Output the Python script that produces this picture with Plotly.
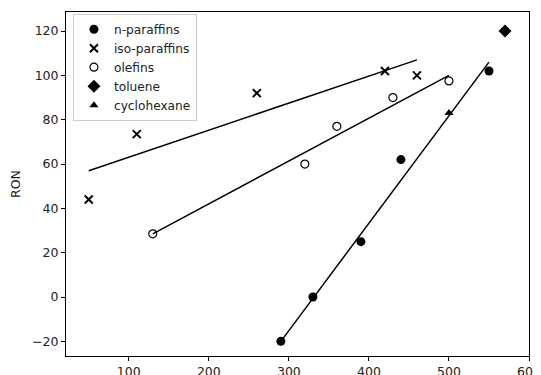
import plotly.graph_objects as go

# Data
npar_x = [290, 330, 390, 440, 550]
npar_y = [-20, 0, 25, 62, 102]
iso_x = [50, 110, 260, 420, 460]
iso_y = [44, 73.5, 92, 102, 100]
ole_x = [130, 320, 360, 430, 500]
ole_y = [28.5, 60, 77, 90, 97.5]
tol_x = [570]
tol_y = [120]
cyc_x = [500]
cyc_y = [83]

# Fitted lines (end points)
iso_fit_x = [50, 460]
iso_fit_y = [57, 107]
ole_fit_x = [130, 500]
ole_fit_y = [28.5, 100]
npar_fit_x = [290, 550]
npar_fit_y = [-20, 106]

FONT = "DejaVu Sans, Liberation Sans, sans-serif"
fig = go.Figure()

line_style = dict(color="black", width=1.5)
for fx, fy in [(iso_fit_x, iso_fit_y), (ole_fit_x, ole_fit_y), (npar_fit_x, npar_fit_y)]:
    fig.add_trace(go.Scatter(x=fx, y=fy, mode="lines", line=line_style,
                             showlegend=False, hoverinfo="skip"))

fig.add_trace(go.Scatter(x=npar_x, y=npar_y, mode="markers", name="n-paraffins",
                         marker=dict(symbol="circle", size=9, color="black")))
fig.add_trace(go.Scatter(x=iso_x, y=iso_y, mode="markers", name="iso-paraffins",
                         marker=dict(symbol="x-thin", size=8, color="black",
                                     line=dict(color="black", width=2))))
fig.add_trace(go.Scatter(x=ole_x, y=ole_y, mode="markers", name="olefins",
                         marker=dict(symbol="circle-open", size=8, color="black",
                                     line=dict(color="black", width=1.2))))
fig.add_trace(go.Scatter(x=tol_x, y=tol_y, mode="markers", name="toluene",
                         marker=dict(symbol="diamond", size=10, color="black")))
fig.add_trace(go.Scatter(x=cyc_x, y=cyc_y, mode="markers", name="cyclohexane",
                         marker=dict(symbol="triangle-up", size=8, color="black")))

axis_common = dict(showgrid=False, zeroline=False, showline=True, linecolor="black",
                   linewidth=1, mirror=True, ticks="outside", ticklen=4,
                   tickcolor="black", tickwidth=1, automargin=False,
                   tickfont=dict(family=FONT, size=12.5, color="#222"))

# The page body has an 8px default margin, so the margins compensate for it.
fig.update_layout(
    width=541, height=375,
    margin=dict(l=58, r=20, t=4, b=27),
    paper_bgcolor="white", plot_bgcolor="white",
    font=dict(family=FONT, size=12, color="#222"),
    xaxis=dict(range=[21.6, 600], tick0=0, dtick=100, **axis_common),
    yaxis=dict(range=[-26.6, 128.6], tick0=0, dtick=20,
               title=dict(text="RON", standoff=9, font=dict(family=FONT, size=12.5, color="#222")),
               **axis_common),
    legend=dict(x=0.015, y=0.995, xanchor="left", yanchor="top",
                bgcolor="rgba(255,255,255,0.8)", bordercolor="#cccccc", borderwidth=1,
                font=dict(family=FONT, size=12.2, color="#222"),
                tracegroupgap=0, itemwidth=30),
)

fig.write_html("out.html")
